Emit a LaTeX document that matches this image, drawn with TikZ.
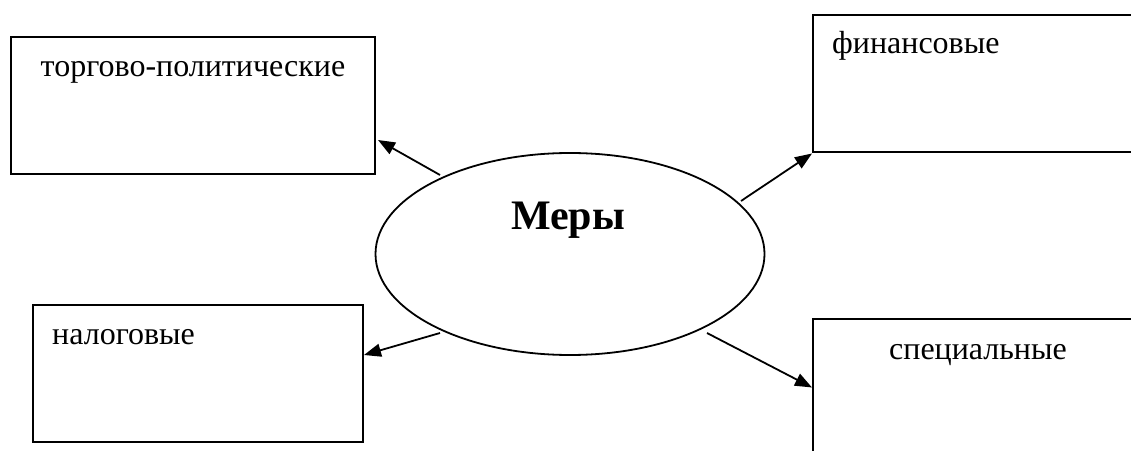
\documentclass[tikz,border=0pt]{standalone}
\usepackage{fontspec}
\setmainfont{Liberation Serif}
\usetikzlibrary{arrows.meta,positioning,calc,shapes.geometric}

\begin{document}
\begin{tikzpicture}[
  x=1pt, y=1pt,
  box/.style={draw, line width=2pt, inner sep=0pt, minimum height=137pt},
  lbl/.style={inner sep=0pt, font=\fontsize{32}{38}\selectfont},
  oval/.style={draw, ellipse, line width=1.8pt, minimum width=389pt,
               minimum height=202pt, inner sep=0pt},
  title/.style={inner sep=0pt, font=\fontsize{42}{50}\selectfont\bfseries},
  arr/.style={-{Triangle[length=17pt,width=13pt]}, line width=1.8pt}
]
\useasboundingbox (0,0) rectangle (1131,450);
\clip (0,0) rectangle (1131,450);

\node[oval] (mery) at (570,196) {};
\node[title, anchor=base] (meryt) at ($(mery.center)+(-2,24)$) {Меры};

% the two boxes on the right run off the page edge
\node[box, minimum width=364pt] (tp)   at (193,344.5) {};
\node[box, minimum width=330pt] (fin)  at (978,366)   {};
\node[box, minimum width=330pt] (nal)  at (197.5,76.25) {};
\node[box, minimum width=330pt] (spec) at (978,62.5)  {};

\node[lbl, anchor=base] (tpt) at ($(tp.north)+(0,-41)$) {торгово-политические};
\node[lbl, anchor=base west] (fint) at ($(fin.north west)+(20,-39)$) {финансовые};
\node[lbl, anchor=base west] (nalt) at ($(nal.north west)+(20.5,-40)$) {налоговые};
\node[lbl, anchor=base] (spect) at ($(spec.north)+(0,-41)$) {специальные};

% arrows leave just outside the ellipse
\coordinate (m1) at ($(mery.center)+(-130,79)$);
\coordinate (m2) at ($(mery.center)+(171,53)$);
\coordinate (m3) at ($(mery.center)+(-130,-79)$);
\coordinate (m4) at ($(mery.center)+(137,-79)$);

\draw[arr] (m1) -- ($(tp.east)+(2,-34.5)$);
\draw[arr] (m2) -- (fin.south west);
\draw[arr] (m3) -- ($(nal.east)+(0.5,18.75)$);
\draw[arr] (m4) -- (spec.west);
\end{tikzpicture}
\end{document}
